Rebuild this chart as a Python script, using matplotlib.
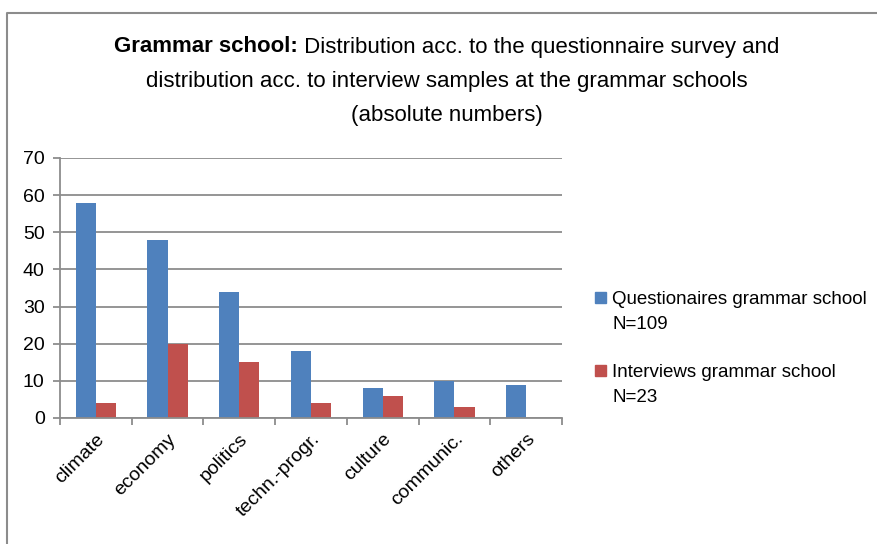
import matplotlib
matplotlib.use("Agg")
import matplotlib.pyplot as plt
from matplotlib.lines import Line2D
from matplotlib.patches import Rectangle
import numpy as np

categories = ["climate", "economy", "politics", "techn.-progr.", "culture", "communic.", "others"]
questionnaires = [58, 48, 34, 18, 8, 10, 9]
interviews = [4, 20, 15, 4, 6, 3, 0]
series_labels = ["Questionaires grammar school\nN=109", "Interviews grammar school\nN=23"]
series_colors = ["#4F81BD", "#C0504D"]
title_bold = "Grammar school:"
title_rest = " Distribution acc. to the questionnaire survey and"
title_lines = ["distribution acc. to interview samples at the grammar schools", "(absolute numbers)"]

plt.rcParams["font.family"] = ["Liberation Sans", "DejaVu Sans"]

W, H = 877, 544
fig = plt.figure(figsize=(W / 100, H / 100), dpi=100)

# chart frame (only left and top edges visible)
fig.add_artist(Line2D([7 / W, 7 / W, 1], [0, 1 - 13 / H, 1 - 13 / H], color="#8c8c8c", lw=1.5))

ax = fig.add_axes([60 / W, (H - 418) / H, (562 - 60) / W, (418 - 158) / H])
x = np.arange(len(categories))
w = 0.28
ax.bar(x - w / 2, questionnaires, w, color=series_colors[0])
ax.bar(x + w / 2, interviews, w, color=series_colors[1])

ax.set_xlim(-0.5, len(categories) - 0.5)
ax.set_ylim(0, 70)
ax.set_yticks(range(0, 71, 10))
ax.yaxis.grid(True, color="#8c8c8c", lw=1.3)
ax.set_axisbelow(True)
ax.set_xticks(np.arange(-0.5, len(categories), 1))
ax.set_xticklabels([])
ax.set_xticks(x, minor=True)
ax.set_xticklabels(categories, minor=True, rotation=45, ha="right", va="top",
                   rotation_mode="anchor", fontsize=14)
ax.tick_params(axis="x", which="minor", length=0, pad=9)
ax.tick_params(axis="x", which="major", length=5, color="#8c8c8c", width=1.3)
ax.tick_params(axis="y", length=5, color="#8c8c8c", width=1.3, labelsize=14, pad=6)
for s in ["top", "right"]:
    ax.spines[s].set_visible(False)
for s in ["left", "bottom"]:
    ax.spines[s].set_color("#8c8c8c")
    ax.spines[s].set_linewidth(1.3)

# legend: square aligned with the first line of each label
legend_y = [297, 370]
for lab, col, yy in zip(series_labels, series_colors, legend_y):
    fig.add_artist(Rectangle((595 / W, 1 - (yy + 6) / H), 11 / W, 11 / H,
                             transform=fig.transFigure, color=col))
    fig.text(612 / W, 1 - (yy - 6) / H, lab, fontsize=13.5, va="top", linespacing=1.6)

# title with bold prefix on the first line
fs = 16
cx = 447 / W
renderer = fig.canvas.get_renderer()
tb = fig.text(0, 1 - 47 / H, title_bold, fontsize=fs, fontweight="bold", va="center")
tr = fig.text(0, 1 - 47 / H, title_rest, fontsize=fs, va="center")
wb = tb.get_window_extent(renderer).width / W
wr = tr.get_window_extent(renderer).width / W
start = cx - (wb + wr) / 2
tb.set_x(start)
tr.set_x(start + wb)
fig.text(cx, 1 - 81 / H, title_lines[0], fontsize=fs, ha="center", va="center")
fig.text(cx, 1 - 115 / H, title_lines[1], fontsize=fs, ha="center", va="center")

fig.savefig("out.png", dpi=100)
